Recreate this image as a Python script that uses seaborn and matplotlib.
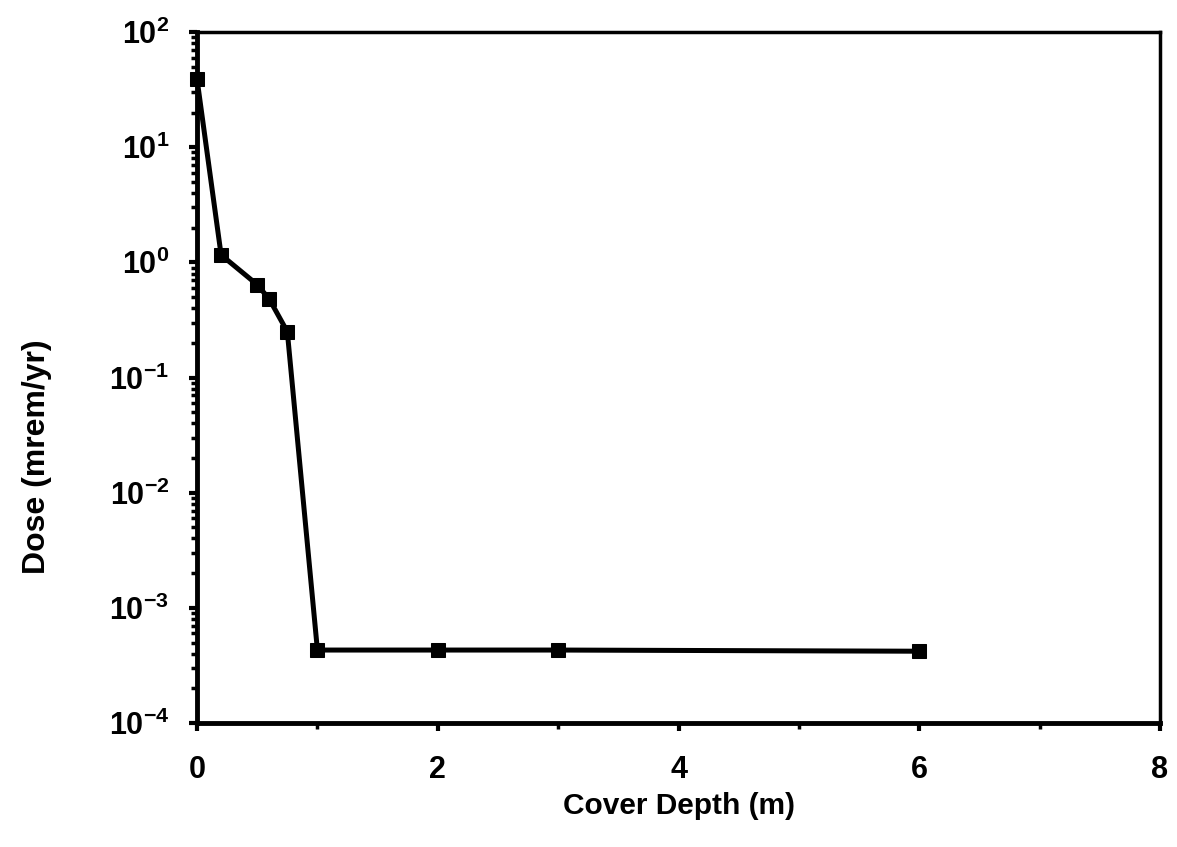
import matplotlib
matplotlib.use("Agg")
import matplotlib.pyplot as plt
import seaborn as sns
import pandas as pd
import numpy as np
from matplotlib.ticker import LogLocator, FixedLocator, NullFormatter, FixedFormatter

cover_depth = [0, 0.2, 0.5, 0.6, 0.75, 1, 2, 3, 6]
dose = [39, 1.16, 0.64, 0.48, 0.25, 4.3e-4, 4.3e-4, 4.3e-4, 4.2e-4]

sns.set_style("ticks")
plt.rcParams['font.family'] = ['Liberation Sans', 'DejaVu Sans']
plt.rcParams['font.weight'] = 'bold'
plt.rcParams['mathtext.default'] = 'bf'
plt.rcParams['axes.unicode_minus'] = False
plt.rcParams['text.color'] = 'black'
plt.rcParams['axes.labelcolor'] = 'black'
plt.rcParams['xtick.color'] = 'black'
plt.rcParams['ytick.color'] = 'black'
plt.rcParams['axes.edgecolor'] = 'black'

df = pd.DataFrame({"Cover Depth (m)": cover_depth, "Dose (mrem/yr)": dose})

fig = plt.figure(figsize=(11.77, 8.47), dpi=100)
ax = fig.add_axes([0.1674, 0.1464, 0.8182, 0.8158])

sns.lineplot(data=df, x="Cover Depth (m)", y="Dose (mrem/yr)", ax=ax,
             color="black", linewidth=3.6, marker="s", markersize=10,
             markeredgecolor="black", markerfacecolor="black", clip_on=False)

ax.set_yscale("log")
ax.set_xlim(0, 8)
ax.set_ylim(1e-4, 1e2)
ax.set_xticks([0, 2, 4, 6, 8])
ax.xaxis.set_minor_locator(FixedLocator([1, 3, 5, 7]))
ax.yaxis.set_major_locator(LogLocator(base=10, numticks=10))
ax.yaxis.set_minor_locator(LogLocator(base=10, subs=np.arange(2, 10), numticks=20))
ax.yaxis.set_minor_formatter(NullFormatter())

ax.tick_params(axis='both', which='major', direction='out', length=6, width=3,
               labelsize=22, labelcolor='black', color='black')
ax.tick_params(axis='x', which='major', pad=17)
ax.tick_params(axis='y', which='major', pad=14)
ax.tick_params(axis='both', which='minor', direction='out', length=4, width=2.5,
               color='black')
ax.tick_params(axis='y', which='both', right=False)
ax.tick_params(axis='x', which='both', top=False)

for lbl in ax.get_xticklabels() + ax.get_yticklabels():
    lbl.set_fontweight('bold')
ax.xaxis.get_offset_text().set_visible(False)
ax.yaxis.get_offset_text().set_visible(False)

for side in ['left', 'bottom']:
    ax.spines[side].set_linewidth(3.5)
    ax.spines[side].set_color('black')
for side in ['top', 'right']:
    ax.spines[side].set_visible(True)
    ax.spines[side].set_linewidth(2.5)
    ax.spines[side].set_color('black')

ax.set_xlabel("Cover Depth (m)", fontsize=21.5, fontweight='bold', color='black')
ax.set_ylabel("Dose (mrem/yr)", fontsize=23, fontweight='bold', color='black')
ax.xaxis.set_label_coords(0.5, -0.1)
ax.yaxis.set_label_coords(-0.151, 0.385)

fig.savefig("out.png", dpi=100)
